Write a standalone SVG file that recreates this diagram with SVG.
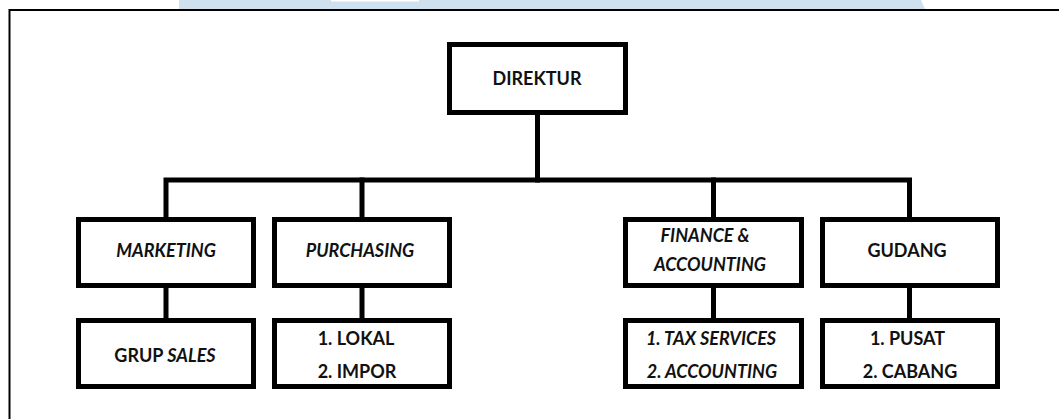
<svg xmlns="http://www.w3.org/2000/svg" width="1059" height="419" viewBox="0 0 1059 419">
  <style>
    .box { fill: #ffffff; stroke: #000000; stroke-width: 5; }
    .conn { fill: none; stroke: #000000; stroke-width: 5; stroke-linejoin: miter; stroke-linecap: square; }
    text { font-family: Lato, "Liberation Sans", Arial, sans-serif; font-weight: bold; font-size: 18px; fill: #111111; text-anchor: middle; }
    .it { font-style: italic; }
  </style>
  <rect x="0" y="0" width="1059" height="419" fill="#ffffff"/>
  <!-- watermark band -->
  <polygon points="179,0 921,0 925,9 179,9" fill="#cfe0ee"/>
  <rect x="331" y="0" width="88" height="1.5" fill="#ffffff"/>
  <!-- outer frame -->
  <path d="M9.5,419 V10 H1059" fill="none" stroke="#000000" stroke-width="2"/>

  <g id="connectors">
    <path class="conn" d="M537.5,113 V180"/>
    <path class="conn" d="M166,217 V180 H909.5 V217"/>
    <path class="conn" d="M362,180 V217"/>
    <path class="conn" d="M713.5,180 V217"/>
    <path class="conn" d="M166,288 V318"/>
    <path class="conn" d="M362,288 V318"/>
    <path class="conn" d="M713.5,288 V318"/>
    <path class="conn" d="M909.5,288 V318"/>
  </g>

  <g id="direktur">
    <rect class="box" x="449.5" y="44.5" width="176" height="68"/>
    <text x="537" y="85">DIREKTUR</text>
  </g>
  <g id="marketing">
    <rect class="box" x="78.5" y="219.5" width="175" height="66"/>
    <text class="it" x="166" y="257">MARKETING</text>
  </g>
  <g id="purchasing">
    <rect class="box" x="274.5" y="219.5" width="175" height="66"/>
    <text class="it" x="360" y="257">PURCHASING</text>
  </g>
  <g id="finance">
    <rect class="box" x="625.5" y="219.5" width="176" height="66"/>
    <text class="it" x="705" y="242">FINANCE &amp;</text>
    <text class="it" x="710" y="271">ACCOUNTING</text>
  </g>
  <g id="gudang">
    <rect class="box" x="822.5" y="219.5" width="175" height="66"/>
    <text x="907" y="257">GUDANG</text>
  </g>
  <g id="grup-sales">
    <rect class="box" x="78.5" y="320.5" width="175" height="66"/>
    <text x="165" y="362">GRUP <tspan class="it">SALES</tspan></text>
  </g>
  <g id="lokal-impor">
    <rect class="box" x="274.5" y="320.5" width="175" height="66"/>
    <text x="356" y="345">1. LOKAL</text>
    <text x="357" y="378">2. IMPOR</text>
  </g>
  <g id="tax-accounting">
    <rect class="box" x="625.5" y="320.5" width="176" height="66"/>
    <text class="it" x="711" y="345">1. TAX SERVICES</text>
    <text class="it" x="712" y="378">2. ACCOUNTING</text>
  </g>
  <g id="pusat-cabang">
    <rect class="box" x="822.5" y="320.5" width="175" height="66"/>
    <text x="907.5" y="345">1. PUSAT</text>
    <text x="910" y="378">2. CABANG</text>
  </g>
</svg>
